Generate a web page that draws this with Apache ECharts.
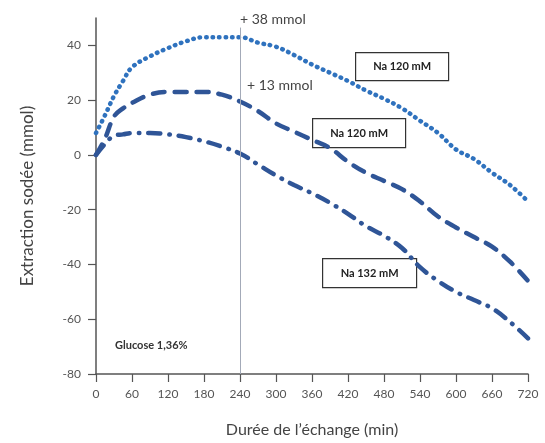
<!DOCTYPE html>
<html lang="fr">
<head>
  <meta charset="utf-8">
  <title>Extraction sodée</title>
  <style>
    * { margin: 0; padding: 0; }
    #chart-container { width: 545px; height: 443px; background: #fff; }
  </style>
</head>
<body>
  <div id="chart-container"></div>
  <script src="https://cdn.jsdelivr.net/npm/echarts@6/dist/echarts.min.js"></script>
  <script>
    // minutes de l'échange
    var times = [0, 15, 30, 45, 60, 90, 120, 150, 180, 210, 240, 270, 300, 330, 360,
      390, 420, 450, 480, 510, 540, 570, 600, 630, 660, 690, 720];
    // Na 120 mM (pointillés)
    var naDotted = [8, 14.5, 21.5, 27, 32, 36, 39, 41.5, 43, 43, 43, 41, 39.5, 36.5, 33,
      30, 27, 23.5, 20.5, 17, 12.5, 8, 2, -1.5, -6.5, -11, -17];
    // Na 120 mM (tirets)
    var naDashed = [0, 6, 14, 17, 19, 22, 23, 23, 23, 22, 19.5, 16, 11.5, 8.5, 5.5,
      2.5, -2.5, -6.5, -9.5, -12.5, -17, -22.5, -26.5, -30, -33.5, -39, -46];
    // Na 132 mM (tiret-point)
    var naDashDot = [0, 4, 7, 7.5, 8, 8, 7.5, 6.5, 5, 3, 0.5, -3.5, -7.5, -11, -14,
      -17.5, -21.5, -26, -29.5, -34, -41, -46, -50, -53, -56, -61, -67];
    var yTicks = [-80, -60, -40, -20, 0, 20, 40];

    function pairs(vals) {
      return times.map(function (t, i) { return [t, vals[i]]; });
    }

    var dom = document.getElementById('chart-container');
    var myChart = echarts.init(dom, null, { renderer: 'canvas' });

    var font = 'Lato, "Open Sans", sans-serif';
    var axisColor = '#555';

    function box(x, y, w, h, label) {
      return {
        type: 'group', left: x, top: y,
        children: [
          { type: 'rect', shape: { x: 0, y: 0, width: w, height: h },
            style: { fill: '#fff', stroke: '#333', lineWidth: 1.2 } },
          { type: 'text', x: w / 2, y: h / 2,
            style: { text: label, fill: '#222', font: 'bold 11px ' + font,
              align: 'center', verticalAlign: 'middle' } }
        ]
      };
    }

    var option = {
      backgroundColor: '#fff',
      animation: false,
      grid: { left: 96, right: 17, top: 18, bottom: 61, containLabel: false },
      xAxis: {
        type: 'value', min: 0, max: 720, interval: 60,
        name: 'Durée de l\u2019échange (min)', nameLocation: 'middle', nameGap: 48,
        nameTextStyle: { fontFamily: font, fontSize: 16, color: '#444' },
        axisLine: { onZero: false, lineStyle: { color: axisColor, width: 1.5 } },
        axisTick: { show: true, length: 8, lineStyle: { color: axisColor, width: 1.2 } },
        axisLabel: { fontFamily: font, fontSize: 12, color: '#555', margin: 14 },
        splitLine: { show: false }
      },
      yAxis: {
        type: 'value', min: -80, max: 50, interval: 20,
        name: 'Extraction sodée (mmol)', nameLocation: 'middle', nameGap: 60,
        nameRotate: 90,
        nameTextStyle: { fontFamily: font, fontSize: 17, color: '#444' },
        axisLine: { show: true, lineStyle: { color: axisColor, width: 1.5 } },
        axisTick: { show: true, length: 8, customValues: yTicks,
          lineStyle: { color: axisColor, width: 1.2 } },
        axisLabel: { fontFamily: font, fontSize: 12, color: '#555', margin: 15,
          customValues: yTicks },
        splitLine: { show: false }
      },
      series: [
        {
          type: 'line', data: pairs(naDotted), smooth: 0.4, symbol: 'none',
          lineStyle: { color: '#2f72be', width: 4.5, type: [0.5, 6], cap: 'round' },
          markLine: {
            silent: true, symbol: 'none', label: { show: false },
            lineStyle: { color: '#a3aab8', width: 1, type: 'solid' },
            data: [[{ coord: [240, 46.5] }, { coord: [240, -80] }]]
          }
        },
        {
          type: 'line', data: pairs(naDashed), smooth: 0.4, symbol: 'none',
          lineStyle: { color: '#2f5597', width: 4.5, type: [12, 10], cap: 'round' }
        },
        {
          type: 'line', data: pairs(naDashDot), smooth: 0.4, symbol: 'none',
          lineStyle: { color: '#2f5597', width: 4.5, type: [12, 9, 0.5, 9], cap: 'round' }
        }
      ],
      graphic: [
        { type: 'text', left: 240, top: 12,
          style: { text: '+ 38 mmol', fill: '#444', font: '14px ' + font } },
        { type: 'text', left: 247, top: 78,
          style: { text: '+ 13 mmol', fill: '#444', font: '14px ' + font } },
        box(355, 52, 93, 28, 'Na 120 mM'),
        box(312, 118, 93, 29, 'Na 120 mM'),
        box(322, 258, 94, 29, 'Na 132 mM'),
        { type: 'text', left: 115, top: 340,
          style: { text: 'Glucose 1,36%', fill: '#333', font: 'bold 11px ' + font } }
      ]
    };

    myChart.setOption(option);
    window.addEventListener('resize', myChart.resize);
  </script>
</body>
</html>
